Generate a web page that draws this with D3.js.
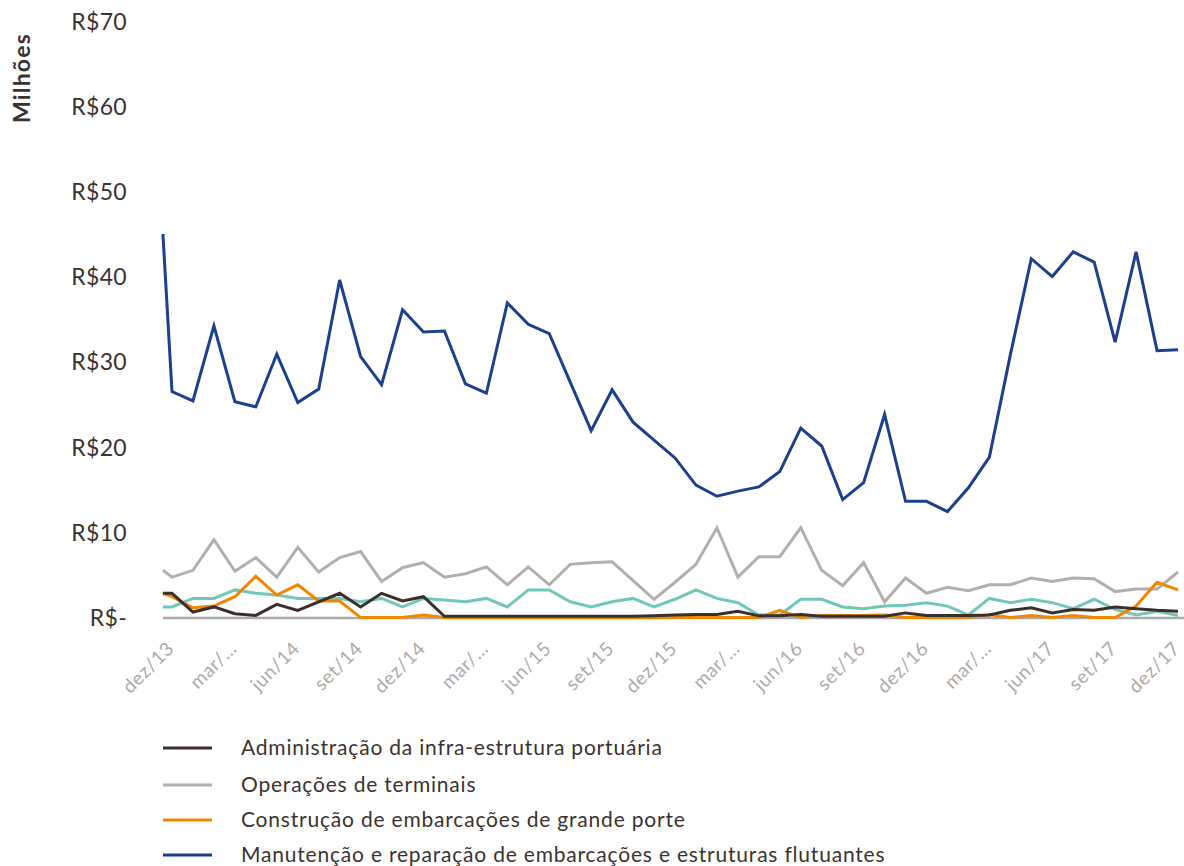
<!DOCTYPE html>
<html><head><meta charset="utf-8">
<script src="https://cdn.jsdelivr.net/npm/d3@7/dist/d3.min.js"></script>
<style>
html,body{margin:0;padding:0;background:#fff;}
svg{display:block;font-family:Lato,"Noto Sans",sans-serif;}
</style></head>
<body>
<svg id="chart" width="1184" height="866"></svg>
<script>
// ---------- data ----------
const dates = ["2013-11-18","2013-12-01",
"2014-01-01","2014-02-01","2014-03-01","2014-04-01","2014-05-01","2014-06-01","2014-07-01","2014-08-01","2014-09-01","2014-10-01","2014-11-01","2014-12-01",
"2015-01-01","2015-02-01","2015-03-01","2015-04-01","2015-05-01","2015-06-01","2015-07-01","2015-08-01","2015-09-01","2015-10-01","2015-11-01","2015-12-01",
"2016-01-01","2016-02-01","2016-03-01","2016-04-01","2016-05-01","2016-06-01","2016-07-01","2016-08-01","2016-09-01","2016-10-01","2016-11-01","2016-12-01",
"2017-01-01","2017-02-01","2017-03-01","2017-04-01","2017-05-01","2017-06-01","2017-07-01","2017-08-01","2017-09-01","2017-10-01","2017-11-01","2017-12-01"];

const tickDates = ["2013-12-01","2014-03-01","2014-06-01","2014-09-01","2014-12-01","2015-03-01","2015-06-01","2015-09-01","2015-12-01","2016-03-01","2016-06-01","2016-09-01","2016-12-01","2017-03-01","2017-06-01","2017-09-01","2017-12-01"];
const tickLabels = ["dez/13","mar/…","jun/14","set/14","dez/14","mar/…","jun/15","set/15","dez/15","mar/…","jun/16","set/16","dez/16","mar/…","jun/17","set/17","dez/17"];

const yTicks = [0,10,20,30,40,50,60,70];
const yTickLabels = ["R$-","R$10","R$20","R$30","R$40","R$50","R$60","R$70"];

const administracao = [2.9,
 2.9,0.7,1.3,0.5,0.3,1.6,0.9,1.9,2.9,1.3,2.9,2.0,2.5,
 0.2,0.2,0.2,0.2,0.2,0.2,0.2,0.2,0.2,0.2,
 0.25,0.35,0.4,0.4,0.8,0.25,0.25,0.4,0.2,0.2,0.2,0.2,0.6,0.3,0.3,0.3,0.35,0.9,1.2,0.6,1.0,0.9,1.3,1.1,0.9,0.8];
const operacoes = [5.6,
 4.8,5.6,9.2,5.5,7.1,4.8,8.3,5.4,7.1,7.8,4.3,5.9,6.5,
 4.8,5.2,6.0,3.9,6.0,3.9,6.3,6.5,6.6,4.4,2.2,4.2,
 6.3,10.6,4.8,7.2,7.2,10.6,5.6,3.8,6.5,1.9,4.7,2.9,
 3.6,3.2,3.9,3.9,4.7,4.3,4.7,4.6,3.1,3.4,3.4,5.4];
const construcao = [2.9,
 2.5,1.2,1.4,2.5,4.9,2.7,3.9,2.0,2.0,0.05,0.05,0.05,0.35,
 0.05,0.05,0.05,0.05,0.05,0.05,0.05,0.05,0.05,0.05,0.05,0.05,0.05,0.05,0.05,0.05,
 0.9,0.05,0.3,0.3,0.3,0.35,0.05,0.05,0.05,0.05,0.4,0.05,0.3,0.05,0.3,0.05,0.05,1.4,4.2,3.3];
const manutencao = [45.1,
 26.6,25.5,34.3,25.4,24.8,31.0,25.3,26.9,39.7,30.7,27.4,36.2,33.6,
 33.7,27.5,26.4,37.0,34.5,33.4,27.7,22.0,26.8,23.0,20.9,18.8,
 15.6,14.3,14.9,15.4,17.2,22.3,20.2,13.9,15.9,23.9,13.7,13.7,
 12.5,15.3,18.9,30.9,42.2,40.1,43.0,41.8,32.4,43.0,31.4,31.5];
const outros = [1.3,
 1.3,2.3,2.3,3.3,2.9,2.7,2.3,2.3,2.3,1.9,2.3,1.3,2.3,
 2.1,1.9,2.3,1.3,3.3,3.3,1.9,1.3,1.9,2.3,1.3,2.2,
 3.3,2.3,1.8,0.35,0.35,2.2,2.2,1.3,1.1,1.4,1.5,1.8,
 1.4,0.35,2.3,1.8,2.2,1.8,1.1,2.2,1.0,0.35,0.8,0.3];

const seriesNames = ["Administração da infra-estrutura portuária","Operações de terminais","Construção de embarcações de grande porte","Manutenção e reparação de embarcações e estruturas flutuantes",""];
const seriesColors = ["#3b2f2b","#b4afad","#f08700","#1c3f8e","#72c6ba"];
const seriesValues = [administracao, operacoes, construcao, manutencao, outros];
const drawOrder = [3,1,4,2,0];

// ---------- scales ----------
const parse = d3.timeParse("%Y-%m-%d");
function monthIndex(s){ const d = parse(s); return (d.getFullYear()-2013)*12 + (d.getMonth()-11) + (d.getDate()-1)/30; }

const svg = d3.select("#chart");
const x = d3.scaleLinear().domain([0,48]).range([172,1178]);
const y = d3.scaleLinear().domain([0,70]).range([618,22]);

const textDark = "#3c3230";

// y axis labels
const yAxis = d3.axisLeft(y).tickValues(yTicks).tickSize(0).tickPadding(0)
  .tickFormat((d,i)=>yTickLabels[i]);
const gy = svg.append("g").attr("transform","translate(127,0)").call(yAxis);
gy.select(".domain").remove();
gy.selectAll("text").attr("fill",textDark).style("font-size","23px")
  .style("font-family","Lato, sans-serif").style("letter-spacing","0.3px");

// y title
svg.append("text").attr("transform","translate(30,78) rotate(-90)")
  .attr("text-anchor","middle").attr("fill",textDark)
  .style("font-size","23px").style("font-weight","700").style("letter-spacing","1.2px").text("Milhões");

// baseline
svg.append("line").attr("x1",x(monthIndex(dates[0]))).attr("x2",x(48)+6)
  .attr("y1",y(0)).attr("y2",y(0)).attr("stroke","#ababab").attr("stroke-width",2.5);

// x axis labels
const xAxis = d3.axisBottom(x).tickValues(tickDates.map(monthIndex)).tickSize(0).tickPadding(0)
  .tickFormat((d,i)=>tickLabels[i]);
const gx = svg.append("g").attr("transform",`translate(0,${y(0)})`).call(xAxis);
gx.select(".domain").remove();
gx.selectAll("text").attr("fill","#aeaaa8").style("font-size","19px").style("font-family","Lato, sans-serif")
  .style("letter-spacing","0.6px")
  .attr("text-anchor","end").attr("y",null).attr("dy","0.72em")
  .attr("transform","translate(-7,22) rotate(-45)");

// lines
const line = d3.line().x((d,i)=>x(monthIndex(dates[i]))).y(d=>y(d));
drawOrder.forEach(k=>{
  svg.append("path").datum(seriesValues[k]).attr("d",line)
    .attr("fill","none").attr("stroke",seriesColors[k]).attr("stroke-width",3)
    .attr("stroke-linejoin","miter");
});

// legend
const legY = [748,785,820,855];
[0,1,2,3].forEach((k,i)=>{
  svg.append("line").attr("x1",163).attr("x2",212).attr("y1",legY[i]).attr("y2",legY[i])
    .attr("stroke",seriesColors[k]).attr("stroke-width",3);
  svg.append("text").attr("x",241).attr("y",legY[i]).attr("dy","0.35em")
    .attr("fill",textDark).style("font-size","21px").style("letter-spacing","0.8px").text(seriesNames[k]);
});
</script>
</body></html>
